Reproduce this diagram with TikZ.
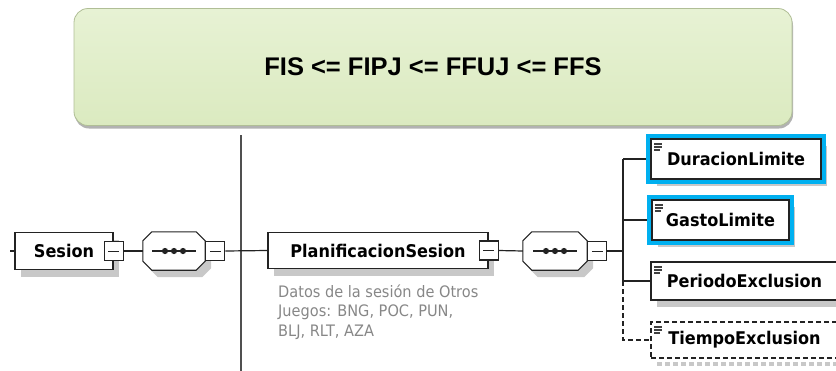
\documentclass[tikz,border=0pt]{standalone}
\usepackage{fontspec}
\setmainfont{DejaVu Sans}
\newfontfamily\boxfont[FakeStretch=0.92]{DejaVu Sans}
\newfontfamily\titlefont{Liberation Sans}
\usetikzlibrary{shadows,fit,calc}

\definecolor{cyanc}{RGB}{0,176,240}
\definecolor{greentop}{RGB}{231,242,212}
\definecolor{greenbot}{RGB}{219,234,192}
\definecolor{greenedge}{RGB}{176,190,150}
\definecolor{descgray}{RGB}{135,135,135}
\definecolor{shadowgray}{RGB}{200,200,200}
\definecolor{linec}{RGB}{35,35,35}
\definecolor{vlinec}{RGB}{80,80,80}

\newcommand\seqshape[1]{%
  \fill[shadowgray]
    ($(#1.north west)+(9+6,7)$) -- ($(#1.north east)+(-9+6,7)$) --
    ($(#1.north east)+(6,9+7)$) -- ($(#1.south east)+(6,-9+7)$) --
    ($(#1.south east)+(-9+6,7)$) -- ($(#1.south west)+(9+6,7)$) --
    ($(#1.south west)+(6,-9+7)$) -- ($(#1.north west)+(6,9+7)$) -- cycle;
  \draw[linec, line width=1.1pt, fill=white]
    ($(#1.north west)+(9,0)$) -- ($(#1.north east)+(-9,0)$) --
    ($(#1.north east)+(0,9)$) -- ($(#1.south east)+(0,-9)$) --
    ($(#1.south east)+(-9,0)$) -- ($(#1.south west)+(9,0)$) --
    ($(#1.south west)+(0,-9)$) -- ($(#1.north west)+(0,9)$) -- cycle;
  \draw[linec, line width=1.3pt] ($(#1.center)+(-22,0)$) -- ($(#1.center)+(22,0)$);
  \fill[linec] ($(#1.center)+(-9,0)$) circle (3.1);
  \fill[linec] ($(#1.center)+(0,0)$) circle (3.1);
  \fill[linec] ($(#1.center)+(9,0)$) circle (3.1);
}

\begin{document}
\begin{tikzpicture}[x=1pt,y=-1pt,
  every node/.style={font=\boxfont\bfseries\fontsize{17.5}{20}\selectfont, text=black},
  elbox/.style={draw=linec, line width=1.1pt, fill=white, inner sep=0pt,
    drop shadow={shadow xshift=6pt, shadow yshift=-7pt, fill=shadowgray, opacity=1}},
  minusbox/.style={draw=linec, line width=1.1pt, fill=white, minimum size=19pt, inner sep=0pt,
    path picture={\draw[linec, line width=1pt, solid]
      ([xshift=4pt]path picture bounding box.west) -- ([xshift=-4pt]path picture bounding box.east);}},
  seqframe/.style={minimum width=#1, minimum height=38pt, inner sep=0pt},
  simple/.style={path picture={
      \draw[black!75, line width=1.1pt, solid]
        ([shift={(3pt,-5pt)}]path picture bounding box.north west) -- ++(8pt,0pt)
        ([shift={(3pt,-8pt)}]path picture bounding box.north west) -- ++(8pt,0pt)
        ([shift={(3pt,-11pt)}]path picture bounding box.north west) -- ++(6pt,0pt);}},
  hl/.style={draw=cyanc, line width=4pt, inner sep=2pt},
  conn/.style={linec, line width=1.2pt},
  dashline/.style={dash pattern=on 5pt off 3pt},
  vline/.style={vlinec, line width=2pt}
]
\useasboundingbox (0,0) rectangle (836,370);
\clip (0,0) rectangle (836,370);

% title box
\node (title) [rounded corners=14pt, minimum width=718pt, minimum height=117pt,
  top color=greentop, bottom color=greenbot, draw=greenedge, line width=0.8pt,
  drop shadow={shadow xshift=1pt, shadow yshift=-3pt, fill=black, opacity=0.3}]
  at (433,67) {\titlefont\bfseries\fontsize{25.5}{30}\selectfont FIS <= FIPJ <= FFUJ <= FFS};

% vertical line
\coordinate (vtop) at (241,135);
\coordinate (vbot) at (241,372);
\draw[vline] (vtop) -- (vbot);

% left part
\node (sesion) [elbox, minimum width=98pt, minimum height=37pt] at (64,251) {Sesion};
\node (sesm) [minusbox] at (sesion.east) {};
\node (seq1) [seqframe=62pt] at (174,251) {};
\seqshape{seq1}
\node (seq1m) [minusbox, anchor=west] at (seq1.east) {};

% middle
\node (plan) [elbox, minimum width=220pt, minimum height=36pt] at (378,250.5) {PlanificacionSesion};
\node (planm) [minusbox] at (plan.east) {};
\node (desc) [anchor=north west, align=left, inner sep=0pt, text=descgray,
  font=\boxfont\fontsize{15.8}{19.5}\selectfont] at (278,284.5)
  {Datos de la sesión de Otros\\Juegos: BNG, POC, PUN,\\BLJ, RLT, AZA};
\node (seq2) [seqframe=64pt] at (555,251) {};
\seqshape{seq2}
\node (seq2m) [minusbox, anchor=west] at (seq2.east) {};

% right boxes
\node (dur) [elbox, simple, minimum width=170pt, minimum height=40pt] at (736,159) {DuracionLimite};
\node (durhl) [hl, fit=(dur)] {};
\node (gas) [elbox, simple, minimum width=137pt, minimum height=40pt] at (720.5,220) {GastoLimite};
\node (gashl) [hl, fit=(gas)] {};
\node (per) [elbox, simple, minimum width=187pt, minimum height=38pt] at (744.5,281) {PeriodoExclusion};
\draw[shadowgray, line width=3.5pt, dashline] (651+6,360+4) -- (840,360+4);
\node (tie) [draw=linec, line width=1.1pt, dashline, fill=white, inner sep=0pt, simple,
  minimum width=187pt, minimum height=36pt] at (744.5,340) {TiempoExclusion};

% connectors
\coordinate (lstub) at (10,251);
\coordinate (sp) at (623,251);
\draw[conn] (lstub) -- (sesion.west);
\draw[conn] (sesm.east) -- (seq1.west);
\draw[conn] (seq1m.east) -- (plan.west);
\draw[conn] (planm.east) -- (seq2.west);
\draw[conn] (seq2m.east) -- (sp);
\draw[conn] (sp |- durhl.west) -- (sp |- per.west);
\draw[conn] (sp |- durhl.west) -- (durhl.west);
\draw[conn] (sp |- gashl.west) -- (gashl.west);
\draw[conn] (sp |- per.west) -- (per.west);
\draw[conn, dashline] (sp |- per.west) -- (sp |- tie.west) -- (tie.west);
\end{tikzpicture}
\end{document}
